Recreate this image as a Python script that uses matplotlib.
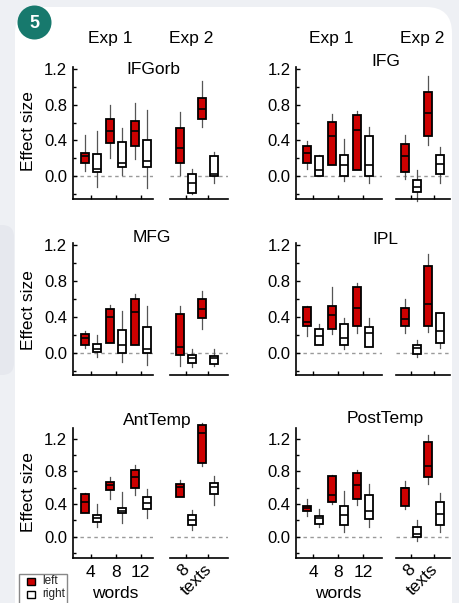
import matplotlib
matplotlib.use('Agg')
import matplotlib.pyplot as plt
import matplotlib.transforms as mtransforms
from matplotlib.patches import FancyBboxPatch, Rectangle, Circle

plt.rcParams['font.family'] = ['Liberation Sans', 'DejaVu Sans']

# ---------------- data: (whisker low, q1, median, q3, whisker high) ----------------
REGIONS = ['IFGorb', 'IFG', 'MFG', 'IPL', 'AntTemp', 'PostTemp']
EXP1_CONDS = ['4', '8', '12']
EXP2_CONDS = ['8', 'texts']
HEMIS = ['left', 'right']

IFGORB_LEFT = [(0.06, 0.15, 0.22, 0.26, 0.46), (0.20, 0.37, 0.50, 0.64, 0.80), (0.19, 0.34, 0.50, 0.62, 0.82),
               (0.01, 0.15, 0.31, 0.54, 0.72), (0.55, 0.64, 0.75, 0.88, 1.07)]
IFGORB_RIGHT = [(-0.13, 0.04, 0.075, 0.25, 0.50), (0.01, 0.10, 0.14, 0.385, 0.54), (-0.14, 0.10, 0.17, 0.40, 0.74),
                (-0.20, -0.19, -0.075, 0.02, 0.075), (-0.08, 0.0, 0.02, 0.22, 0.27)]
IFG_LEFT = [(0.08, 0.14, 0.26, 0.34, 0.39), (0.12, 0.12, 0.45, 0.61, 0.70), (0.07, 0.07, 0.52, 0.69, 0.73),
            (-0.04, 0.04, 0.22, 0.36, 0.46), (0.35, 0.45, 0.71, 0.94, 1.12)]
IFG_RIGHT = [(0.0, 0.0, 0.07, 0.22, 0.23), (-0.06, 0.0, 0.12, 0.23, 0.41), (-0.08, 0.0, 0.12, 0.45, 0.55),
             (-0.28, -0.185, -0.13, -0.045, 0.07), (-0.075, 0.02, 0.136, 0.24, 0.33)]
MFG_LEFT = [(0.06, 0.085, 0.17, 0.206, 0.25), (0.11, 0.11, 0.40, 0.49, 0.53), (0.09, 0.09, 0.46, 0.60, 0.66),
            (-0.14, -0.02, 0.07, 0.43, 0.52), (0.27, 0.39, 0.49, 0.60, 0.69)]
MFG_RIGHT = [(-0.045, 0.01, 0.04, 0.10, 0.195), (-0.10, 0.0, 0.085, 0.26, 0.47), (-0.13, 0.0, 0.04, 0.29, 0.52),
             (-0.15, -0.11, -0.055, -0.02, 0.04), (-0.14, -0.12, -0.06, -0.03, 0.04)]
IPL_LEFT = [(0.19, 0.30, 0.35, 0.51, 0.52), (0.21, 0.27, 0.42, 0.52, 0.73), (0.22, 0.30, 0.50, 0.73, 0.78),
            (0.22, 0.30, 0.38, 0.50, 0.60), (0.23, 0.30, 0.54, 0.97, 1.10)]
IPL_RIGHT = [(0.09, 0.09, 0.19, 0.27, 0.32), (0.045, 0.09, 0.17, 0.32, 0.39), (0.07, 0.07, 0.22, 0.29, 0.39),
             (-0.045, -0.01, 0.06, 0.09, 0.15), (0.06, 0.11, 0.25, 0.44, 0.44)]
ANTTEMP_LEFT = [(0.29, 0.29, 0.43, 0.52, 0.54), (0.46, 0.57, 0.63, 0.67, 0.73), (0.51, 0.60, 0.73, 0.82, 0.88),
                (0.49, 0.49, 0.61, 0.64, 0.69), (0.87, 0.90, 1.27, 1.37, 1.39)]
ANTTEMP_RIGHT = [(0.12, 0.175, 0.23, 0.265, 0.40), (0.17, 0.29, 0.32, 0.35, 0.55), (0.23, 0.34, 0.41, 0.48, 0.58),
                 (0.08, 0.14, 0.20, 0.265, 0.33), (0.39, 0.52, 0.61, 0.66, 0.74)]
POSTTEMP_LEFT = [(0.25, 0.32, 0.35, 0.37, 0.46), (0.40, 0.43, 0.51, 0.74, 0.75), (0.39, 0.46, 0.63, 0.78, 0.81),
                 (0.34, 0.37, 0.59, 0.60, 0.68), (0.64, 0.73, 0.87, 1.16, 1.25)]
POSTTEMP_RIGHT = [(0.12, 0.15, 0.23, 0.25, 0.34), (0.06, 0.14, 0.27, 0.37, 0.56), (0.12, 0.22, 0.32, 0.51, 0.65),
                  (-0.05, 0.0, 0.03, 0.12, 0.20), (0.06, 0.14, 0.28, 0.43, 0.53)]

DATA = {
    'IFGorb': (IFGORB_LEFT, IFGORB_RIGHT),
    'IFG': (IFG_LEFT, IFG_RIGHT),
    'MFG': (MFG_LEFT, MFG_RIGHT),
    'IPL': (IPL_LEFT, IPL_RIGHT),
    'AntTemp': (ANTTEMP_LEFT, ANTTEMP_RIGHT),
    'PostTemp': (POSTTEMP_LEFT, POSTTEMP_RIGHT),
}

Y_TICKS = [0.0, 0.4, 0.8, 1.2]
Y_MINOR = [-0.2, 0.2, 0.6, 1.0]

# ---------------- styling / layout ----------------
RED = '#cc0000'
FILLS = {'left': RED, 'right': 'white'}
W, H = 460, 603
BOX_W_PX, OFF_PX = 8.0, 6.0

# columns: (x0, x1, first tick px, tick spacing px) for exp1 and exp2
COLS = [
    {'e1': (72.7, 153.0, 90.7, 25.0), 'e2': (170.0, 228.0, 186.0, 22.5)},
    {'e1': (296.0, 382.0, 313.0, 25.0), 'e2': (395.7, 450.0, 411.5, 22.5)},
]
ROWS = [
    {'top': 67.4, 'bot': 199.0, 'ylim': (-0.26, 1.22)},
    {'top': 243.2, 'bot': 375.0, 'ylim': (-0.244, 1.22)},
    {'top': 428.0, 'bot': 557.7, 'ylim': (-0.257, 1.33)},
]
TITLE_POS = {'IFGorb': (153, 69), 'IFG': (386, 61), 'MFG': (152, 237),
             'IPL': (385.5, 240), 'AntTemp': (157, 421), 'PostTemp': (385, 418.5)}

fig = plt.figure(figsize=(W / 100, H / 100), dpi=100)
fig.patch.set_facecolor('#eef0f4')

bg = fig.add_axes([0, 0, 1, 1], zorder=-10)
bg.set_xlim(0, W)
bg.set_ylim(H, 0)
bg.axis('off')
bg.add_patch(FancyBboxPatch((-30, 225), 44, 150, boxstyle='round,pad=0,rounding_size=12',
                            facecolor='#e6e8ee', edgecolor='none'))
bg.add_patch(FancyBboxPatch((15, 7), 437, 660, boxstyle='round,pad=0,rounding_size=26',
                            facecolor='white', edgecolor='none'))
bg.add_patch(Circle((34.5, 22.5), 17, facecolor='#17796d', edgecolor='none'))
bg.text(34.5, 23, '5', color='white', fontsize=13, fontweight='bold', ha='center', va='center')


def add_ax(x0, x1, ytop, ybot):
    ax = fig.add_axes([x0 / W, 1 - ybot / H, (x1 - x0) / W, (ybot - ytop) / H])
    ax.patch.set_alpha(0)
    return ax


def draw_boxes(ax, left_stats, right_stats, sp):
    n = len(left_stats)
    for hemi, stats, sign in (('left', left_stats, -1), ('right', right_stats, 1)):
        st = [dict(whislo=s[0], q1=s[1], med=s[2], q3=s[3], whishi=s[4], fliers=[]) for s in stats]
        pos = [i + 1 + sign * OFF_PX / sp for i in range(n)]
        arts = ax.bxp(st, positions=pos, widths=BOX_W_PX / sp, patch_artist=True, showcaps=False,
                      showfliers=False, manage_ticks=False,
                      boxprops=dict(facecolor=FILLS[hemi], edgecolor='black', linewidth=1.3),
                      medianprops=dict(color='black', linewidth=1.2),
                      whiskerprops=dict(color='#555555', linewidth=0.9))
        for k in arts:
            for a in arts[k]:
                a.set_clip_on(False)
        for b in arts['boxes']:
            b.set_zorder(3)
        for m in arts['medians']:
            m.set_zorder(4)


for idx, region in enumerate(REGIONS):
    r, c = divmod(idx, 2)
    row, col = ROWS[r], COLS[c]
    left, right = DATA[region]
    for part, conds, lstats, rstats in (('e1', EXP1_CONDS, left[:3], right[:3]),
                                        ('e2', EXP2_CONDS, left[3:], right[3:])):
        x0, x1, t0, sp = col[part]
        ax = add_ax(x0, x1, row['top'], row['bot'])
        ax.set_xlim(1 - (t0 - x0) / sp, 1 + (x1 - t0) / sp)
        ax.set_ylim(*row['ylim'])
        ax.axhline(0, color='#9a9a9a', lw=1.0, ls=(0, (2.5, 2.5)), zorder=1)
        draw_boxes(ax, lstats, rstats, sp)
        for s in ('top', 'right'):
            ax.spines[s].set_visible(False)
        ax.spines['bottom'].set_linewidth(1.2)
        ax.spines['left'].set_linewidth(1.2)
        ax.set_xticks(range(1, len(conds) + 1))
        ax.tick_params(axis='both', direction='in', length=3, width=1, labelsize=12, pad=4)
        if part == 'e1':
            ax.set_yticks(Y_TICKS)
            ax.set_yticklabels([f'{v:.1f}' for v in Y_TICKS])
            ax.set_yticks(Y_MINOR, minor=True)
            ax.tick_params(axis='y', which='minor', direction='in', length=2, width=1)
        else:
            ax.spines['left'].set_visible(False)
            ax.set_yticks([])
        if r == 2:
            if part == 'e1':
                ax.set_xticklabels(conds, fontsize=12.5)
                ax.tick_params(axis='x', pad=5)
            else:
                labs = ax.set_xticklabels(conds, fontsize=12.5, rotation=45, ha='right', va='top',
                                          rotation_mode='anchor')
                ax.tick_params(axis='x', pad=3)
                shift = mtransforms.ScaledTranslation(-4 / 100, 0, fig.dpi_scale_trans)
                for lab in labs:
                    lab.set_transform(lab.get_transform() + shift)
        else:
            ax.set_xticklabels([])

    tx, ty = TITLE_POS[region]
    bg.text(tx, ty, region, fontsize=12.5, ha='center', va='center')

# headers
for c, (x1c, x2c) in enumerate([(110, 191), (331, 422)]):
    bg.text(x1c, 38.5, 'Exp 1', fontsize=12.5, ha='center', va='center')
    bg.text(x2c, 38.5, 'Exp 2', fontsize=12.5, ha='center', va='center')

# y labels
for yc in (131.5, 310, 492):
    bg.text(29, yc, 'Effect size', fontsize=12.5, rotation=90, ha='center', va='center')

# "words" labels
for xc in (115, 338):
    bg.text(xc, 594, 'words', fontsize=12.5, ha='center', va='center')

# legend
bg.add_patch(Rectangle((19, 574), 48, 35, facecolor='white', edgecolor='#888888', lw=1.0))
for yy, hemi in ((581.5, 'left'), (594, 'right')):
    bg.add_patch(Rectangle((27.5, yy - 3.5), 7.5, 7, facecolor=FILLS[hemi], edgecolor='black', lw=1.0))
    bg.text(42, yy, hemi, fontsize=8.5, ha='left', va='center', color='#222222')

fig.savefig('out.png', dpi=100, facecolor=fig.get_facecolor())
